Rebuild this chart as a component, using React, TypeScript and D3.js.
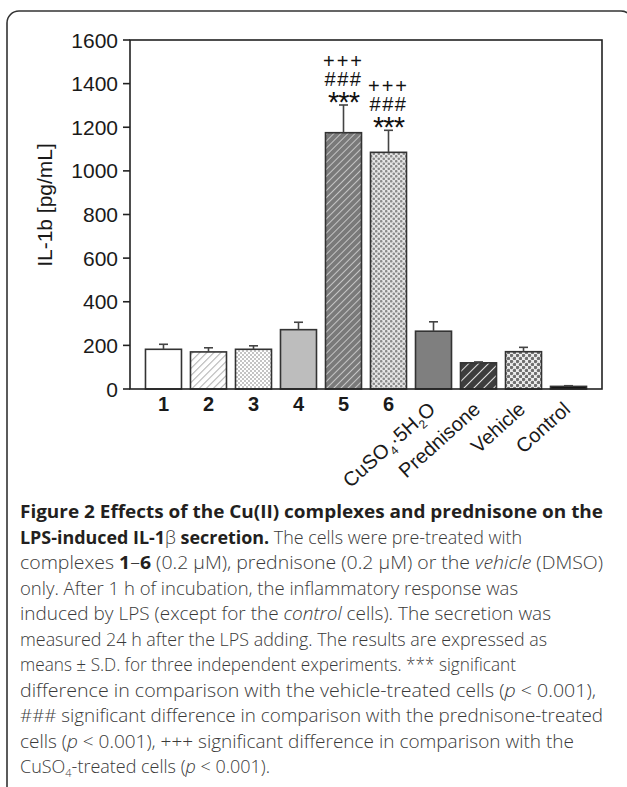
import React from "react";
import * as d3 from "d3";

const groups = ["1", "2", "3", "4", "5", "6", "CuSO4·5H2O", "Prednisone", "Vehicle", "Control"];
const means = [182, 170, 182, 272, 1175, 1085, 265, 120, 171, 12];
const sds = [23, 19, 16, 34, 127, 101, 43, 4, 20, 3];
const fills = ["#ffffff", "url(#p2)", "url(#p3)", "#bdbdbd", "url(#p5)", "url(#p6)", "#7f7f7f", "url(#p8)", "url(#p9)", "#111111"];
const marks: (string[] | null)[] = [null, null, null, null, ["+++", "###", "***"], ["+++", "###", "***"], null, null, null, null];
const yTicks = [0, 200, 400, 600, 800, 1000, 1200, 1400, 1600];

const W = 627;
const H = 787;
const plot = { left: 130, right: 602, top: 40, bottom: 389 };

const chartFont = "'Liberation Sans', Arial, sans-serif";
const capFont = "'Open Sans', 'Noto Sans', sans-serif";

function RotLabel({ g }: { g: string }) {
  if (g === "CuSO4·5H2O") {
    return (
      <>
        CuSO<tspan fontSize="12" dy="5">4</tspan><tspan dy="-5">·5H</tspan><tspan fontSize="12" dy="5">2</tspan><tspan dy="-5">O</tspan>
      </>
    );
  }
  return <>{g}</>;
}

export default function App() {
  const x = d3.scaleBand<number>()
    .domain(d3.range(groups.length))
    .range([plot.left, plot.right])
    .paddingInner(0.2)
    .paddingOuter(0.344);
  const y = d3.scaleLinear().domain([0, 1600]).range([plot.bottom, plot.top]);
  const bw = x.bandwidth();

  const capLines: { w: number; parts: [string, string][] }[] = [
    { w: 583, parts: [["b", "Figure 2 Effects of the Cu(II) complexes and prednisone on the"]] },
    { w: 502, parts: [["b", "LPS-induced IL-1"], ["r", "β"], ["b", " secretion."], ["r", " The cells were pre-treated with"]] },
    { w: 583, parts: [["r", "complexes "], ["b", "1"], ["r", "–"], ["b", "6"], ["r", " (0.2 μM), prednisone (0.2 μM) or the "], ["i", "vehicle"], ["r", " (DMSO)"]] },
    { w: 498, parts: [["r", "only. After 1 h of incubation, the inflammatory response was"]] },
    { w: 531, parts: [["r", "induced by LPS (except for the "], ["i", "control"], ["r", " cells). The secretion was"]] },
    { w: 527, parts: [["r", "measured 24 h after the LPS adding. The results are expressed as"]] },
    { w: 496, parts: [["r", "means ± S.D. for three independent experiments. *** significant"]] },
    { w: 576, parts: [["r", "difference in comparison with the vehicle-treated cells ("], ["i", "p"], ["r", " < 0.001),"]] },
    { w: 583, parts: [["r", "### significant difference in comparison with the prednisone-treated"]] },
    { w: 554, parts: [["r", "cells ("], ["i", "p"], ["r", " < 0.001), +++ significant difference in comparison with the"]] },
    { w: 250, parts: [["r", "CuSO"], ["s", "4"], ["r", "-treated cells ("], ["i", "p"], ["r", " < 0.001)."]] },
  ];

  return (
    <svg width={W} height={H} style={{ position: "absolute", left: 0, top: 0, background: "#fff" }}>
      <defs>
        <pattern id="p2" width="5" height="5" patternUnits="userSpaceOnUse" patternTransform="rotate(45)">
          <rect width="5" height="5" fill="#ffffff" />
          <line x1="0" y1="0" x2="0" y2="5" stroke="#b3b3b3" strokeWidth="2.2" />
        </pattern>
        <pattern id="p3" width="4" height="4" patternUnits="userSpaceOnUse">
          <rect width="4" height="4" fill="#ffffff" />
          <rect width="2" height="2" fill="#c4c4c4" />
          <rect x="2" y="2" width="2" height="2" fill="#c4c4c4" />
        </pattern>
        <pattern id="p5" width="5" height="5" patternUnits="userSpaceOnUse" patternTransform="rotate(45)">
          <rect width="5" height="5" fill="#7a7a7a" />
          <line x1="0" y1="0" x2="0" y2="5" stroke="#d8d8d8" strokeWidth="1.6" />
        </pattern>
        <pattern id="p6" width="5" height="5" patternUnits="userSpaceOnUse">
          <rect width="5" height="5" fill="#e6e6e6" />
          <circle cx="1.25" cy="1.25" r="1.3" fill="#8a8a8a" />
          <circle cx="3.75" cy="3.75" r="1.3" fill="#8a8a8a" />
        </pattern>
        <pattern id="p8" width="7" height="7" patternUnits="userSpaceOnUse" patternTransform="rotate(45)">
          <rect width="7" height="7" fill="#3d3d3d" />
          <line x1="0" y1="0" x2="0" y2="7" stroke="#e0e0e0" strokeWidth="2" />
        </pattern>
        <pattern id="p9" width="6" height="6" patternUnits="userSpaceOnUse">
          <rect width="6" height="6" fill="#ededed" />
          <circle cx="1.5" cy="1.5" r="1.7" fill="#6f6f6f" />
          <circle cx="4.5" cy="4.5" r="1.7" fill="#6f6f6f" />
        </pattern>
      </defs>

      {/* outer panel border */}
      <rect x={7} y={11} width={626} height={800} rx={12} fill="none" stroke="#333" strokeWidth={1.6} />

      {/* bars */}
      {means.map((m, i) => (
        <rect
          key={"b" + i}
          x={x(i)}
          y={y(m)}
          width={bw}
          height={plot.bottom - y(m)}
          fill={fills[i]}
          stroke="#333"
          strokeWidth={1.6}
        />
      ))}

      {/* error bars */}
      {means.map((m, i) => {
        const cx = (x(i) as number) + bw / 2;
        return (
          <g key={"e" + i} stroke="#444" strokeWidth={1.6}>
            <line x1={cx} x2={cx} y1={y(m)} y2={y(m + sds[i])} />
            <line x1={cx - 4.5} x2={cx + 4.5} y1={y(m + sds[i])} y2={y(m + sds[i])} />
          </g>
        );
      })}

      {/* significance marks, one text block per bar */}
      {marks.map((mk, i) => {
        if (!mk) return null;
        const cx = (x(i) as number) + bw / 2;
        const top = y(means[i] + sds[i]);
        return (
          <text key={"m" + i} fontFamily={chartFont} fill="#111" textAnchor="middle" y={top - 37}>
            <tspan x={cx} fontSize={20} letterSpacing={2}>{mk[0]}</tspan>
            <tspan x={cx} dy={18} fontSize={20} letterSpacing={1.5}>{mk[1]}</tspan>
            <tspan x={cx} dy={26} fontSize={29} letterSpacing={-1}>{mk[2]}</tspan>
          </text>
        );
      })}

      {/* frame */}
      <rect x={plot.left} y={plot.top} width={plot.right - plot.left} height={plot.bottom - plot.top} fill="none" stroke="#222" strokeWidth={1.6} />

      {/* y axis */}
      {yTicks.map((t) => (
        <g key={"t" + t}>
          <line x1={plot.left - 7} x2={plot.left} y1={y(t)} y2={y(t)} stroke="#222" strokeWidth={1.6} />
          <text x={plot.left - 12} y={y(t)} dy="0.36em" textAnchor="end" fontFamily={chartFont} fontSize={21} fill="#1a1a1a">
            {t}
          </text>
        </g>
      ))}
      <text
        transform={`translate(52,205) rotate(-90)`}
        textAnchor="middle"
        fontFamily={chartFont}
        fontSize={21}
        fill="#1a1a1a"
      >
        IL-1b [pg/mL]
      </text>

      {/* x labels */}
      {groups.map((g, i) => {
        const cx = (x(i) as number) + bw / 2;
        if (i < 6) {
          return (
            <text key={"x" + i} x={cx} y={411} textAnchor="middle" fontFamily={chartFont} fontSize={20} fontWeight="bold" fill="#1a1a1a">
              {g}
            </text>
          );
        }
        return (
          <text
            key={"x" + i}
            transform={`translate(${cx + 3},${411}) rotate(-42)`}
            textAnchor="end"
            fontFamily={chartFont}
            fontSize={20}
            fill="#1a1a1a"
          >
            <RotLabel g={g} />
          </text>
        );
      })}

      {/* caption */}
      {capLines.map((ln, k) => (
        <text
          key={"c" + k}
          x={20}
          y={518 + k * 25.5}
          fontFamily={capFont}
          fontSize={18}
          textLength={ln.w}
          lengthAdjust="spacingAndGlyphs"
        >
          {ln.parts.map(([s, t], j) => {
            if (s === "b") return <tspan key={j} fontWeight="bold" fill="#231f20">{t}</tspan>;
            if (s === "i") return <tspan key={j} fontStyle="italic" fill="#3a3a3a" fontWeight={300}>{t}</tspan>;
            if (s === "s") return <tspan key={j} fontSize="11" dy="4" fill="#3a3a3a" fontWeight={300}>{t}</tspan>;
            return <tspan key={j} fill="#3a3a3a" fontWeight={300} dy={j > 0 && ln.parts[j - 1][0] === "s" ? -4 : 0}>{t}</tspan>;
          })}
        </text>
      ))}
    </svg>
  );
}
